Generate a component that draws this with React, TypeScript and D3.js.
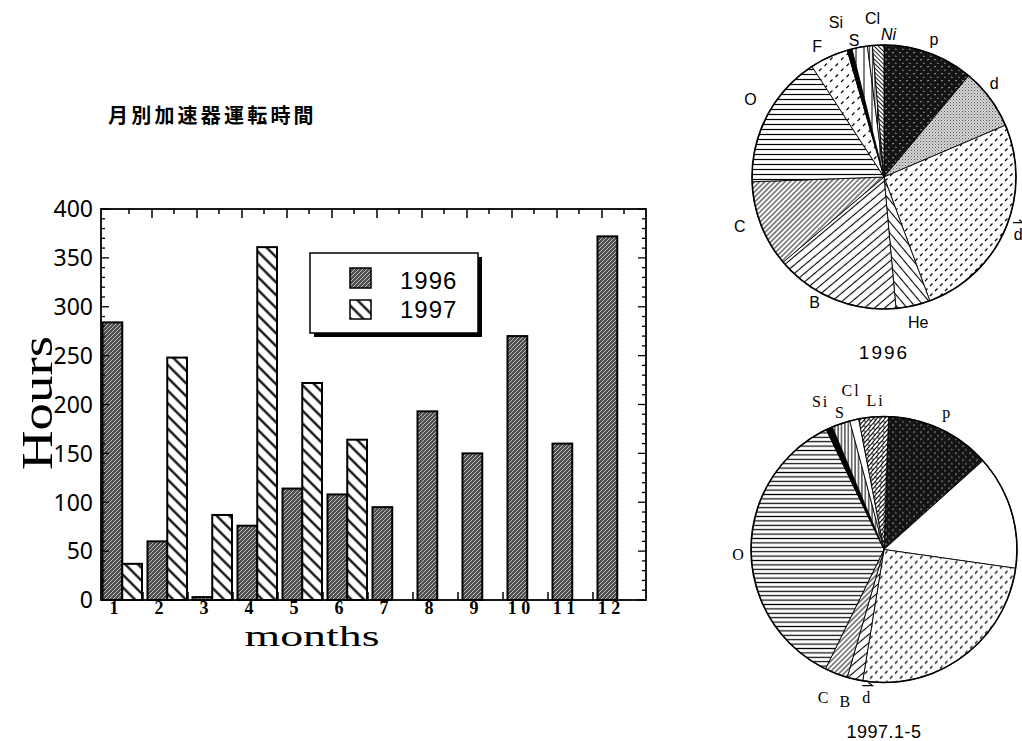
import React from "react";
import * as d3 from "d3";

// monthly accelerator operating hours
const months = ["1", "2", "3", "4", "5", "6", "7", "8", "9", "10", "11", "12"];
const monthLabels = ["1", "2", "3", "4", "5", "6", "7", "8", "9", "1 0", "1 1", "1 2"];
const hours1996 = [284, 60, 3, 76, 114, 108, 95, 193, 150, 270, 160, 372];
const hours1997 = [37, 248, 87, 361, 222, 164, null, null, null, null, null, null];
const yTicks = [0, 50, 100, 150, 200, 250, 300, 350, 400];
const series = ["1996", "1997"];

// ion species share (percent of beam time)
const ions1996 = ["p", "d", "dbar", "He", "B", "C", "O", "F", "Si", "S", "Cl", "Ni"];
const share1996 = [11.1, 7.5, 25.8, 4.2, 15.3, 10.6, 16.4, 4.7, 0.6, 1.9, 0.6, 1.4];
const ions1997 = ["p", "d", "dbar", "B", "C", "O", "Si", "S", "Cl", "Li"];
const share1997 = [12.8, 13.9, 25.3, 1.9, 2.8, 35.6, 0.8, 2.2, 1.1, 3.6];

const fill96: Record<string, string> = {
  p: "url(#pDark)", d: "url(#dGray)", dbar: "url(#dash)", He: "url(#he)",
  B: "url(#bLines)", C: "url(#cLines)", O: "url(#oLines)", F: "url(#fDash)",
  Si: "#000", S: "url(#sLines)", Cl: "url(#clLines)", Ni: "url(#niLines)",
};
const fill97: Record<string, string> = {
  p: "url(#pDark)", d: "#fff", dbar: "url(#dash)", B: "url(#bLines)",
  C: "url(#cLines)", O: "url(#oLines97)", Si: "#000", S: "url(#sLines97)",
  Cl: "#fff", Li: "url(#brick)",
};
// label nudges [dx, dy] and angle overrides (degrees)
const nudge96: Record<string, [number, number]> = {
  d: [-7, -6], B: [-14, -10], C: [-8, -3], O: [-4, -10], F: [-6, 2],
  Si: [-10, -14], S: [-3, 7], Cl: [4, -13], Ni: [11, 3], He: [2, 3],
};
const nudge97: Record<string, [number, number]> = {
  Si: [-3, -14], S: [4, 2], Cl: [0, -16], Li: [3, -2], O: [2, 6],
  B: [-6, 9], C: [-7, 11], p: [1, -4], dbar: [0, 2],
};
const angle97: Record<string, number> = { dbar: 186.5 };

const Lines = ({ id, s, a, w = 1, bg = "#fff" }: { id: string; s: number; a: number; w?: number; bg?: string }) => (
  <pattern id={id} width={s} height={s} patternUnits="userSpaceOnUse" patternTransform={`rotate(${a})`}>
    <rect width={s} height={s} fill={bg} />
    <line x1={s / 2} y1={-1} x2={s / 2} y2={s + 1} stroke="#000" strokeWidth={w} />
  </pattern>
);

const rad = (deg: number) => (deg * Math.PI) / 180;

const Pie = ({ cx, cy, r, ions, share, fills, start, nudges, angles = {}, serif }: any) => {
  const pie = d3.pie<number>().sort(null).startAngle(rad(start)).endAngle(rad(start + 360));
  const arcs = pie(share);
  const arc = d3.arc<d3.PieArcDatum<number>>().innerRadius(0).outerRadius(r);
  const font = serif ? "'Liberation Serif', serif" : "'Liberation Sans', sans-serif";
  return (
    <g transform={`translate(${cx},${cy})`}>
      {arcs.map((a, i) => (
        <path key={i} d={arc(a) || ""} fill={fills[ions[i]]} stroke="#000" strokeWidth={0.9} />
      ))}
      <circle r={r} fill="none" stroke="#000" strokeWidth={1.6} />
      {arcs.map((a, i) => {
        const ion = ions[i];
        const mid = angles[ion] != null ? rad(angles[ion]) : (a.startAngle + a.endAngle) / 2;
        const n = nudges[ion] || [0, 0];
        const lx = Math.sin(mid) * (r + 14) + n[0];
        const ly = -Math.cos(mid) * (r + 14) + n[1];
        const isBar = ion === "dbar";
        return (
          <g key={"l" + i} transform={`translate(${lx},${ly})`}>
            <text textAnchor={ion === "d" && serif ? "start" : "middle"} dominantBaseline="central"
              fontFamily={font} fontSize={16} letterSpacing={serif ? 2 : 0}
              fontStyle={ion === "Ni" ? "italic" : "normal"}>
              {isBar ? "d" : ion}
            </text>
            {isBar && <path d="M-5,-12 L5,-12 L1,-15" fill="none" stroke="#000" strokeWidth={1.2} />}
          </g>
        );
      })}
    </g>
  );
};

export default function App() {
  const x = d3.scaleBand<string>().domain(months).range([98, 638]);
  const xs = d3.scaleBand<string>().domain(series).range([4.5, 44]);
  const y = d3.scaleLinear().domain([0, 400]).range([600, 209]);
  const left = 101, right = 646, top = 209, bottom = 600;
  const minor = d3.range(0, 401, 10);

  return (
    <svg width={1022} height={741} style={{ position: "absolute", left: 0, top: 0, background: "#fff" }}>
      <defs>
        <pattern id="g96" width={4} height={4} patternUnits="userSpaceOnUse">
          <rect width={4} height={4} fill="#505050" />
          <path d="M0,4 L4,0 M-1,1 L1,-1 M3,5 L5,3" stroke="#bdbdbd" strokeWidth={1} />
        </pattern>
        <Lines id="h97" s={9} a={-45} w={2.2} />
        <pattern id="pDark" width={7} height={7} patternUnits="userSpaceOnUse">
          <rect width={7} height={7} fill="#141414" />
          <path d="M1,2 l2,-0.6 M4,5 l1.6,0.5" stroke="#d8d8d8" strokeWidth={0.7} />
        </pattern>
        <pattern id="dGray" width={3} height={3} patternUnits="userSpaceOnUse">
          <rect width={3} height={3} fill="#d6d6d6" />
          <rect x={0} y={0} width={1} height={1} fill="#555" />
          <rect x={1.5} y={1.5} width={1} height={1} fill="#777" />
        </pattern>
        <pattern id="dash" width={10} height={10} patternUnits="userSpaceOnUse">
          <rect width={10} height={10} fill="#fff" />
          <path d="M1,4 L3.5,1.5 M6,9 L8.5,6.5" stroke="#000" strokeWidth={1.2} />
        </pattern>
        <pattern id="fDash" width={11} height={11} patternUnits="userSpaceOnUse">
          <rect width={11} height={11} fill="#fff" />
          <path d="M1,4 L3.5,1.5 M6.5,10 L9,7.5" stroke="#000" strokeWidth={1.1} />
        </pattern>
        <Lines id="he" s={7} a={-40} w={1.1} />
        <Lines id="bLines" s={6.5} a={50} w={1.1} />
        <Lines id="cLines" s={3.6} a={45} w={0.9} />
        <Lines id="oLines" s={5} a={90} w={1.2} />
        <Lines id="oLines97" s={4.4} a={90} w={1.2} />
        <Lines id="sLines" s={8} a={0} w={1} />
        <Lines id="sLines97" s={3.4} a={0} w={1} />
        <Lines id="clLines" s={2.6} a={0} w={0.8} />
        <Lines id="niLines" s={3} a={-45} w={0.9} />
        <pattern id="brick" width={8} height={6} patternUnits="userSpaceOnUse" patternTransform="rotate(-50)">
          <rect width={8} height={6} fill="#fff" />
          <path d="M0,0.5 H8 M0,3.5 H8 M2,0.5 V3.5 M6,3.5 V6.5" stroke="#000" strokeWidth={1} />
        </pattern>
      </defs>

      {/* title */}
      <text x={108} y={123} fontFamily="'Noto Sans CJK JP', sans-serif" fontWeight={700} fontSize={20} letterSpacing={3.2}>
        月別加速器運転時間
      </text>

      {/* bars */}
      {months.map((m, i) => (
        <g key={m}>
          <rect x={(x(m) || 0) + (xs("1996") || 0)} y={y(hours1996[i])} width={xs.bandwidth()}
            height={y(0) - y(hours1996[i])} fill="url(#g96)" stroke="#000" strokeWidth={2} />
          {hours1997[i] != null && (
            <rect x={(x(m) || 0) + (xs("1997") || 0)} y={y(hours1997[i] as number)} width={xs.bandwidth()}
              height={y(0) - y(hours1997[i] as number)} fill="url(#h97)" stroke="#000" strokeWidth={2} />
          )}
        </g>
      ))}

      {/* frame */}
      <rect x={left} y={top} width={right - left} height={bottom - top} fill="none" stroke="#000" strokeWidth={1.8} />
      {minor.map((v) => {
        const len = v % 50 === 0 ? 8 : 4;
        return (
          <g key={"t" + v} stroke="#000" strokeWidth={1.3}>
            <line x1={left} x2={left + len} y1={y(v)} y2={y(v)} />
            <line x1={right} x2={right - len} y1={y(v)} y2={y(v)} />
          </g>
        );
      })}
      {months.map((m, i) => (
        <g key={"xt" + m} stroke="#000" strokeWidth={1.5}>
          {i > 0 && <line x1={x(m)} x2={x(m)} y1={bottom} y2={bottom - 8} />}
          {i > 0 && <line x1={(x(m) || 0) + 9} x2={(x(m) || 0) + 9} y1={top} y2={top + 9} />}
          <line x1={(x(m) || 0) + 31} x2={(x(m) || 0) + 31} y1={top} y2={top + 5} />
        </g>
      ))}
      {yTicks.map((v) => (
        <text key={"yl" + v} x={93} y={y(v)} dy="0.36em" textAnchor="end" fontFamily="'Noto Sans', sans-serif" fontSize={23}>
          {v}
        </text>
      ))}
      {months.map((m, i) => (
        <text key={"xl" + m} x={(x(m) || 0) + 16} y={614} textAnchor="middle" fontFamily="'Liberation Serif', serif"
          fontWeight={700} fontSize={18}>
          {monthLabels[i]}
        </text>
      ))}
      <text transform="translate(52,403) rotate(-90)" textAnchor="middle" fontFamily="'Liberation Serif', serif"
        fontSize={44} textLength={134} lengthAdjust="spacingAndGlyphs">
        Hours
      </text>
      <text x={312} y={646} textAnchor="middle" fontFamily="'Liberation Serif', serif" fontSize={30}
        textLength={135} lengthAdjust="spacingAndGlyphs">
        months
      </text>

      {/* legend */}
      <rect x={314} y={257} width={168} height={80} fill="#000" />
      <rect x={310} y={253} width={168} height={80} fill="#fff" stroke="#000" strokeWidth={1.5} />
      <rect x={350} y={268} width={21} height={20} fill="url(#g96)" stroke="#000" strokeWidth={1.5} />
      <rect x={350} y={300} width={21} height={19} fill="url(#h97)" stroke="#000" strokeWidth={1.5} />
      <text x={400} y={289} fontFamily="'Liberation Sans', sans-serif" fontSize={24} letterSpacing={1}>{series[0]}</text>
      <text x={400} y={318} fontFamily="'Liberation Sans', sans-serif" fontSize={24} letterSpacing={1}>{series[1]}</text>

      {/* pies */}
      <Pie cx={884} cy={177} r={132} ions={ions1996} share={share1996} fills={fill96} start={0} nudges={nudge96} />
      <text x={884} y={359} textAnchor="middle" fontFamily="'Liberation Sans', sans-serif" fontSize={19} letterSpacing={2}>1996</text>
      <Pie cx={884} cy={549.5} r={133} ions={ions1997} share={share1997} fills={fill97} start={2} nudges={nudge97}
        angles={angle97} serif />
      <text x={884} y={738} textAnchor="middle" fontFamily="'Liberation Sans', sans-serif" fontSize={18} letterSpacing={0.5}>1997.1-5</text>
    </svg>
  );
}
